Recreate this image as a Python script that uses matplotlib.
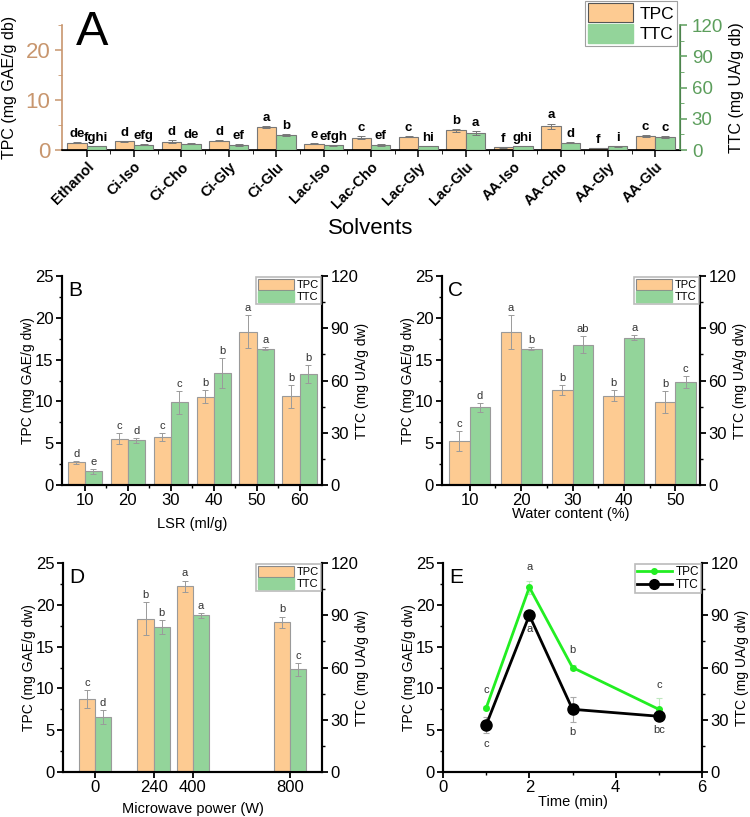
import matplotlib
matplotlib.use('Agg')
import matplotlib.pyplot as plt
import numpy as np
from matplotlib.ticker import MultipleLocator, FixedLocator
from matplotlib.patches import Patch
from matplotlib.lines import Line2D

plt.rcParams['font.family'] = ['Liberation Sans', 'DejaVu Sans']

# ---------------- Data ----------------
solvents = ['Ethanol', 'Ci-Iso', 'Ci-Cho', 'Ci-Gly', 'Ci-Glu', 'Lac-Iso', 'Lac-Cho',
            'Lac-Gly', 'Lac-Glu', 'AA-Iso', 'AA-Cho', 'AA-Gly', 'AA-Glu']
tpc_a = [1.47, 1.73, 1.70, 1.87, 4.60, 1.27, 2.47, 2.67, 3.93, 0.53, 4.80, 0.40, 2.87]
tpc_a_err = [0.10, 0.15, 0.30, 0.10, 0.15, 0.05, 0.30, 0.05, 0.30, 0.05, 0.50, 0.05, 0.20]
ttc_a = [3.8, 5.1, 6.1, 5.1, 14.7, 4.5, 5.1, 3.8, 16.0, 3.8, 7.0, 3.5, 12.8]
ttc_a_err = [0.3, 0.5, 0.8, 0.8, 0.8, 0.5, 1.0, 0.3, 1.8, 0.3, 0.5, 0.3, 0.8]
tpc_a_let = ['de', 'd', 'd', 'd', 'a', 'e', 'c', 'c', 'b', 'f', 'a', 'f', 'c']
ttc_a_let = ['fghi', 'efg', 'de', 'ef', 'b', 'efgh', 'ef', 'hi', 'a', 'ghi', 'd', 'i', 'c']

lsr = [10, 20, 30, 40, 50, 60]
tpc_b = [2.7, 5.55, 5.75, 10.55, 18.35, 10.6]
tpc_b_err = [0.2, 0.7, 0.5, 0.8, 2.0, 1.4]
ttc_b = [7.9, 25.7, 47.4, 64.3, 78.3, 63.7]
ttc_b_err = [1.3, 1.5, 6.7, 8.6, 1.0, 5.3]
tpc_b_let = ['d', 'c', 'c', 'b', 'a', 'b']
ttc_b_let = ['e', 'd', 'c', 'b', 'a', 'b']

water = [10, 20, 30, 40, 50]
tpc_c = [5.28, 18.3, 11.36, 10.7, 9.96]
tpc_c_err = [1.2, 2.0, 0.6, 0.7, 1.3]
ttc_c = [44.5, 78.3, 80.5, 84.5, 59.3]
ttc_c_err = [2.4, 1.0, 4.8, 1.4, 3.4]
tpc_c_let = ['c', 'a', 'b', 'b', 'b']
ttc_c_let = ['d', 'b', 'ab', 'a', 'c']

power = [0, 240, 400, 800]
tpc_d = [8.73, 18.35, 22.2, 17.9]
tpc_d_err = [1.1, 2.0, 0.7, 0.7]
ttc_d = [31.6, 83.3, 90.0, 59.0]
ttc_d_err = [3.8, 3.8, 1.4, 3.8]
tpc_d_let = ['c', 'b', 'a', 'b']
ttc_d_let = ['d', 'b', 'a', 'c']

time_min = [1, 2, 3, 5]
tpc_e = [7.66, 22.1, 12.5, 7.5]
tpc_e_err = [0.2, 0.8, 0.3, 1.3]
ttc_e = [27.0, 90.0, 36.0, 32.0]
ttc_e_err = [4.8, 1.5, 7.2, 2.0]
tpc_e_let = ['c', 'a', 'b', 'c']
ttc_e_let = ['c', 'a', 'b', 'bc']

# ---------------- Styles ----------------
C_TPC = '#FDCB92'
C_TTC = '#93D49A'
EDGE = '#9a9a9a'
TAN = '#C8966E'
GRN = '#5C9E5C'
ERRC = '#9a9a9a'

fig = plt.figure(figsize=(7.5, 8.17), dpi=100)
W, H = 750.0, 817.0


def fax(x0, y0, x1, y1):
    return fig.add_axes([x0 / W, 1 - y1 / H, (x1 - x0) / W, (y1 - y0) / H])


# ---------------- Panel A ----------------
axA = fax(62, 25, 680, 150)
axA2 = axA.twinx()
xA = np.arange(len(solvents))
bw = 0.41
axA.bar(xA - bw / 2, tpc_a, bw, color=C_TPC, edgecolor='#777777', linewidth=0.8, zorder=2)
axA.errorbar(xA - bw / 2, tpc_a, yerr=tpc_a_err, fmt='none', ecolor='#777777',
             elinewidth=0.7, capsize=3, capthick=0.7, zorder=3)
axA2.bar(xA + bw / 2, ttc_a, bw, color=C_TTC, edgecolor='#777777', linewidth=0.8, zorder=2)
axA2.errorbar(xA + bw / 2, ttc_a, yerr=ttc_a_err, fmt='none', ecolor='#777777',
              elinewidth=0.7, capsize=3, capthick=0.7, zorder=3)
for i in range(len(solvents)):
    axA.annotate(tpc_a_let[i], (xA[i] - bw / 2, tpc_a[i] + tpc_a_err[i]), xytext=(0, 1.5),
                 textcoords='offset points', ha='center', va='bottom', fontsize=9.5,
                 fontweight='bold')
    axA2.annotate(ttc_a_let[i], (xA[i] + bw / 2, ttc_a[i] + ttc_a_err[i]), xytext=(0, 1.5),
                  textcoords='offset points', ha='center', va='bottom', fontsize=9.5,
                  fontweight='bold')
axA.set_xlim(-0.52, len(solvents) - 0.48)
axA.set_ylim(0, 25)
axA2.set_ylim(0, 120)
axA.set_xticks(xA)
axA.set_xticklabels(solvents, rotation=45, ha='right', rotation_mode='anchor',
                    fontsize=10.5, fontweight='bold')
for t in axA.get_xticklabels():
    t.set_transform(t.get_transform() + matplotlib.transforms.ScaledTranslation(
        10 / 100, 0, fig.dpi_scale_trans))
axA.xaxis.set_minor_locator(FixedLocator(xA[:-1] + 0.5))
axA.set_yticks([0, 10, 20])
axA.yaxis.set_minor_locator(MultipleLocator(5))
axA2.set_yticks([0, 30, 60, 90, 120])
axA2.yaxis.set_minor_locator(MultipleLocator(15))
for a in (axA, axA2):
    a.spines['top'].set_visible(False)
axA.spines['left'].set_color(TAN)
axA2.spines['left'].set_visible(False)
axA2.spines['right'].set_color(GRN)
axA.spines['left'].set_linewidth(1.2)
axA2.spines['right'].set_linewidth(1.2)
axA.spines['bottom'].set_linewidth(1.2)
axA.tick_params(axis='y', colors=TAN, labelsize=16, direction='out', length=5, width=1.1)
axA.tick_params(axis='y', which='minor', length=3, colors=TAN)
axA2.tick_params(axis='y', colors=GRN, labelsize=13.5, direction='out', length=5, width=1.1)
axA2.tick_params(axis='y', which='minor', length=3, colors=GRN)
axA.tick_params(axis='x', length=5, width=1.1, pad=2)
axA.tick_params(axis='x', which='minor', length=3)
axA.set_ylabel('TPC (mg GAE/g db)', fontsize=11.5)
axA.yaxis.set_label_coords((17 - 62) / 618, 0.5)
axA2.set_ylabel('TTC (mg UA/g db)', fontsize=11.5)
axA2.yaxis.set_label_coords((729 - 62) / 618, 0.5)
fig.text(76 / W, 1 - 10 / H, 'A', fontsize=35, va='top', ha='left')
fig.text((62 + 680) / 2 / W, 1 - 228 / H, 'Solvents', ha='center', va='center', fontsize=16)
handlesA = [Patch(facecolor=C_TPC, edgecolor='#555555', linewidth=0.8, label='TPC'),
            Patch(facecolor=C_TTC, edgecolor=C_TTC, label='TTC')]
legA = fig.legend(handles=handlesA, loc='upper right', bbox_to_anchor=(678 / W, 1.0),
                  fontsize=12.5, frameon=True, fancybox=False, edgecolor='#888888',
                  borderpad=0.15, handlelength=2.6, handleheight=1.3, handletextpad=0.4,
                  labelspacing=0.1, borderaxespad=0.05)
legA.get_frame().set_linewidth(0.8)


# ---------------- generic bar panel ----------------
def style_dual(ax, ax2, label, xlabel, xlab_off, lx, rx):
    ax.set_ylim(0, 25)
    ax2.set_ylim(0, 120)
    ax.set_yticks([0, 5, 10, 15, 20, 25])
    ax.yaxis.set_minor_locator(MultipleLocator(2.5))
    ax2.set_yticks([0, 30, 60, 90, 120])
    ax2.yaxis.set_minor_locator(MultipleLocator(15))
    for a in (ax, ax2):
        a.spines['top'].set_visible(False)
        for s in ('left', 'right', 'bottom'):
            a.spines[s].set_linewidth(1.5)
        a.tick_params(which='major', length=4, width=1.3, labelsize=12, direction='out', pad=2)
        a.tick_params(which='minor', length=2.5, width=1.0, direction='out')
    ax.set_ylabel('TPC (mg GAE/g dw)', fontsize=10)
    ax.yaxis.set_label_coords(lx, 0.5)
    ax2.set_ylabel('TTC (mg UA/g dw)', fontsize=10)
    ax2.yaxis.set_label_coords(rx, 0.5)
    ax.text(0.025, 0.975, label, transform=ax.transAxes, fontsize=15, va='top', ha='left')
    ax.set_xlabel(xlabel, fontsize=10.5, labelpad=xlab_off)
    h = [Patch(facecolor=C_TPC, edgecolor='#888888', linewidth=0.8, label='TPC'),
         Patch(facecolor=C_TTC, edgecolor=C_TTC, label='TTC')]
    lg = ax2.legend(handles=h, loc='upper right', fontsize=8, frameon=True, fancybox=False,
                    edgecolor='#aaaaaa', borderpad=0.15, handlelength=3.2, handleheight=1.2,
                    handletextpad=0.3, labelspacing=0.05, borderaxespad=0.1)
    lg.get_frame().set_linewidth(1.2)


def bar_panel(rect, x, tpc, tpce, ttc, ttce, lt, ltt, width, xlim, label, xlabel, xlab_off):
    ax = fax(*rect)
    ax2 = ax.twinx()
    x = np.asarray(x, dtype=float)
    ax.bar(x - width / 2, tpc, width, color=C_TPC, edgecolor=EDGE, linewidth=0.8)
    ax.errorbar(x - width / 2, tpc, yerr=tpce, fmt='none', ecolor=ERRC, elinewidth=0.7,
                capsize=2, capthick=0.7)
    ax2.bar(x + width / 2, ttc, width, color=C_TTC, edgecolor=EDGE, linewidth=0.8)
    ax2.errorbar(x + width / 2, ttc, yerr=ttce, fmt='none', ecolor=ERRC, elinewidth=0.7,
                 capsize=2, capthick=0.7)
    for i in range(len(x)):
        ax.annotate(lt[i], (x[i] - width / 2, tpc[i] + tpce[i]), xytext=(0, 1.5),
                    textcoords='offset points', ha='center', va='bottom', fontsize=8,
                    color='#333333')
        ax2.annotate(ltt[i], (x[i] + width / 2, ttc[i] + ttce[i]), xytext=(0, 1.5),
                     textcoords='offset points', ha='center', va='bottom', fontsize=8,
                     color='#333333')
    ax.set_xlim(*xlim)
    ax.set_xticks(x)
    w = rect[2] - rect[0]
    style_dual(ax, ax2, label, xlabel, xlab_off, -27 / w, 1 + 33 / w)
    return ax, ax2


axB, axB2 = bar_panel((62, 276, 322, 485), lsr, tpc_b, tpc_b_err, ttc_b, ttc_b_err,
                      tpc_b_let, ttc_b_let, 4.0, (4.7, 65.2), 'B', 'LSR (ml/g)', 6)
axB.xaxis.set_minor_locator(FixedLocator([15, 25, 35, 45, 55]))

axC, axC2 = bar_panel((442, 276, 700, 485), water, tpc_c, tpc_c_err, ttc_c, ttc_c_err,
                      tpc_c_let, ttc_c_let, 4.0, (4.6, 54.8), 'C', 'Water content (%)', -1)
axC.xaxis.set_minor_locator(FixedLocator([15, 25, 35, 45]))

axD, axD2 = bar_panel((63, 563, 322, 772), power, tpc_d, tpc_d_err, ttc_d, ttc_d_err,
                      tpc_d_let, ttc_d_let, 66.0, (-131, 930), 'D', 'Microwave power (W)', 5)

# ---------------- Panel E ----------------
axE = fax(443, 563, 702, 772)
axE2 = axE.twinx()
axE.errorbar(time_min, tpc_e, yerr=tpc_e_err, color='#22ee22', lw=2, marker='o', ms=4,
             ecolor='#bfe8bf', elinewidth=0.8, capsize=2, capthick=0.8, zorder=3)
axE2.errorbar(time_min, ttc_e, yerr=ttc_e_err, color='black', lw=2, marker='o', ms=8,
              ecolor='#aaaaaa', elinewidth=0.8, capsize=2, capthick=0.8, zorder=3)
for i in range(len(time_min)):
    axE.annotate(tpc_e_let[i], (time_min[i], tpc_e[i] + max(tpc_e_err[i], 0.5)),
                 xytext=(0, 6), textcoords='offset points', ha='center', va='bottom',
                 fontsize=8, color='#333333')
    axE2.annotate(ttc_e_let[i], (time_min[i], ttc_e[i] - max(ttc_e_err[i], 2.0)),
                  xytext=(0, -4), textcoords='offset points', ha='center', va='top',
                  fontsize=8, color='#333333')
axE.set_xlim(0, 6)
axE.set_xticks([0, 2, 4, 6])
axE.xaxis.set_minor_locator(MultipleLocator(1))
style_dual(axE, axE2, 'E', 'Time (min)', 0, -27 / 259, 1 + 33 / 259)
axE2.get_legend().remove()
hE = [Line2D([], [], color='#22ee22', lw=2, marker='o', ms=4, label='TPC'),
      Line2D([], [], color='black', lw=2, marker='o', ms=7, label='TTC')]
lgE = axE2.legend(handles=hE, loc='upper right', fontsize=8.5, frameon=True, fancybox=False,
                  edgecolor='#aaaaaa', borderpad=0.15, handlelength=3.0, handletextpad=0.3,
                  labelspacing=0.1, borderaxespad=0.1)
lgE.get_frame().set_linewidth(1.2)

fig.savefig('out.png', dpi=100)
